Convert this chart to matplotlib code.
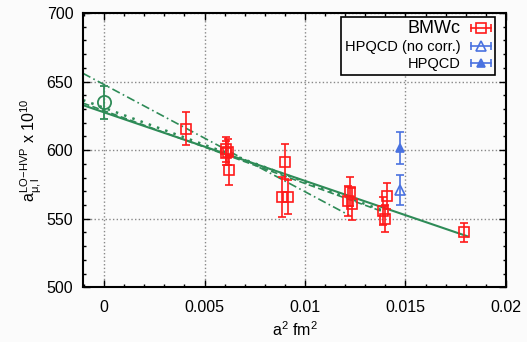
import matplotlib
matplotlib.use("Agg")
import matplotlib.pyplot as plt
from matplotlib.lines import Line2D
from matplotlib.legend_handler import HandlerBase
from matplotlib.ticker import MultipleLocator

plt.rcParams['font.family'] = ['Liberation Sans', 'DejaVu Sans']
plt.rcParams['mathtext.fontset'] = 'custom'
plt.rcParams['mathtext.rm'] = 'Liberation Sans'
plt.rcParams['mathtext.it'] = 'Liberation Sans'

# ---- data ----
bmw_a2 = [0.00406, 0.00607, 0.00617, 0.00607, 0.00622, 0.00885, 0.00898, 0.00913,
          0.01213, 0.01226, 0.01235, 0.01389, 0.01399, 0.01409, 0.01791]
bmw_val = [615.7, 600.6, 598.9, 598.0, 585.6, 566.1, 591.6, 565.7,
           563.2, 569.8, 560.6, 555.7, 550.1, 566.8, 540.2]
bmw_err = [11.8, 9.0, 9.5, 9.0, 11.0, 14.6, 13.0, 12.5,
           11.0, 10.5, 11.5, 10.0, 10.0, 9.5, 7.0]

hpqcd_nc_a2 = [0.01472]
hpqcd_nc_val = [571.0]
hpqcd_nc_err = [11.0]

hpqcd_a2 = [0.01472]
hpqcd_val = [601.6]
hpqcd_err = [11.5]

extrap_a2 = [0.0]
extrap_val = [634.8]
extrap_err = [12.0]

# fit lines: (x-start, x-end), (y-start, y-end)
fit_solid_x = [-0.00105, 0.0181]
fit_solid_y = [632.8, 537.1]
fit_dashed_x = [-0.00105, 0.0139]
fit_dashed_y = [634.3, 555.0]
fit_dotted_x = [-0.00105, 0.0139]
fit_dotted_y = [636.5, 555.8]
fit_dashdot_x = [-0.00105, 0.0122]
fit_dashdot_y = [656.0, 552.5]

red = '#ff1a1a'
blue = '#4a72e0'
green = '#2e8b57'

fig = plt.figure(figsize=(5.27, 3.42), dpi=100, facecolor='#fbfbfb')
ax = fig.add_axes([0.1575, 0.160, 0.8025, 0.802])
ax.set_facecolor('#fbfbfb')

ax.plot(fit_solid_x, fit_solid_y, '-', color=green, lw=1.5, zorder=2)
ax.plot(fit_dashed_x, fit_dashed_y, '--', color=green, lw=1.2, dashes=(4, 2), zorder=2)
ax.plot(fit_dotted_x, fit_dotted_y, ':', color=green, lw=1.8, dashes=(1, 2.5), zorder=2)
ax.plot(fit_dashdot_x, fit_dashdot_y, '-.', color=green, lw=1.2, dashes=(5, 2, 1, 2), zorder=2)

ax.errorbar(extrap_a2, extrap_val, yerr=extrap_err, fmt='o', ms=9.5, mfc='none',
            mec=green, mew=1.3, ecolor=green, elinewidth=1.3, capsize=3, capthick=1.3, zorder=4)

ax.errorbar(bmw_a2, bmw_val, yerr=bmw_err, fmt='s', ms=7.5, mfc='none', mec=red, mew=1.2,
            ecolor=red, elinewidth=1.2, capsize=3, capthick=1.2, zorder=3)
ax.errorbar(hpqcd_nc_a2, hpqcd_nc_val, yerr=hpqcd_nc_err, fmt='^', ms=7, mfc='none', mec=blue,
            mew=1.2, ecolor=blue, elinewidth=1.2, capsize=3, capthick=1.2, zorder=3)
ax.errorbar(hpqcd_a2, hpqcd_val, yerr=hpqcd_err, fmt='^', ms=6, mfc=blue, mec=blue,
            mew=1.2, ecolor=blue, elinewidth=1.2, capsize=3, capthick=1.2, zorder=3)

ax.set_xlim(-0.00105, 0.02)
ax.set_ylim(500, 700)
ax.xaxis.set_major_locator(MultipleLocator(0.005))
ax.xaxis.set_minor_locator(MultipleLocator(0.001))
ax.yaxis.set_major_locator(MultipleLocator(50))
ax.yaxis.set_minor_locator(MultipleLocator(10))
ax.set_xticks([0, 0.005, 0.01, 0.015, 0.02])
ax.set_xticklabels(['0', '0.005', '0.01', '0.015', '0.02'])
ax.tick_params(which='both', direction='in', top=True, right=True, labelsize=11.5)
ax.tick_params(axis='x', pad=9)
ax.tick_params(axis='y', pad=7)
ax.tick_params(which='major', length=5, width=1)
ax.tick_params(which='minor', length=2.5, width=1)
ax.grid(True, which='major', color='#888888', linestyle=':', lw=1)
for s in ax.spines.values():
    s.set_linewidth(1.5)

ax.set_xlabel(r'a$^2$ fm$^2$', fontsize=11.5, labelpad=4)
ax.set_ylabel(r'$\mathrm{a}^{\mathrm{LO\!-\!HVP}}_{\mathrm{\mu,l}}$ x 10$^{10}$', fontsize=11.5, labelpad=2)


class HErr(HandlerBase):
    def create_artists(self, legend, orig_handle, xdescent, ydescent, width, height, fontsize, trans):
        y = height / 2 - ydescent
        x0, x1 = -xdescent, width - xdescent
        c = orig_handle.get_color()
        line = Line2D([x0, x1], [y, y], color=c, lw=1.2)
        caps = Line2D([x0, x1], [y, y], color=c, marker='|', ms=6, mew=1.2, linestyle='none')
        mk = Line2D([(x0 + x1) / 2], [y], marker=orig_handle.get_marker(),
                    mfc=orig_handle.get_markerfacecolor(), mec=c, ms=orig_handle.get_markersize(),
                    mew=1.2, linestyle='none')
        for a in (line, caps, mk):
            a.set_transform(trans)
        return [line, caps, mk]


h1 = Line2D([], [], color=red, marker='s', mfc='none', ms=7)
h2 = Line2D([], [], color=blue, marker='^', mfc='none', ms=7)
h3 = Line2D([], [], color=blue, marker='^', mfc=blue, ms=6)
hm = HErr()
leg = ax.legend([h1, h2, h3], ['BMWc', 'HPQCD (no corr.)', 'HPQCD'],
                handler_map={h1: hm, h2: hm, h3: hm},
                loc='upper right', bbox_to_anchor=(0.974, 0.9865), borderaxespad=0,
                markerfirst=False, fontsize=10.5, handlelength=1.4, handletextpad=0.7,
                borderpad=0.25, labelspacing=0.2, fancybox=False, framealpha=1,
                facecolor='#fbfbfb', edgecolor='black')
leg.get_frame().set_linewidth(1.2)
for t in leg.get_texts():
    t.set_ha('right')
leg.get_texts()[0].set_fontsize(13)
leg._legend_box.align = 'right'

fig.savefig('out.png', dpi=100, facecolor=fig.get_facecolor())
